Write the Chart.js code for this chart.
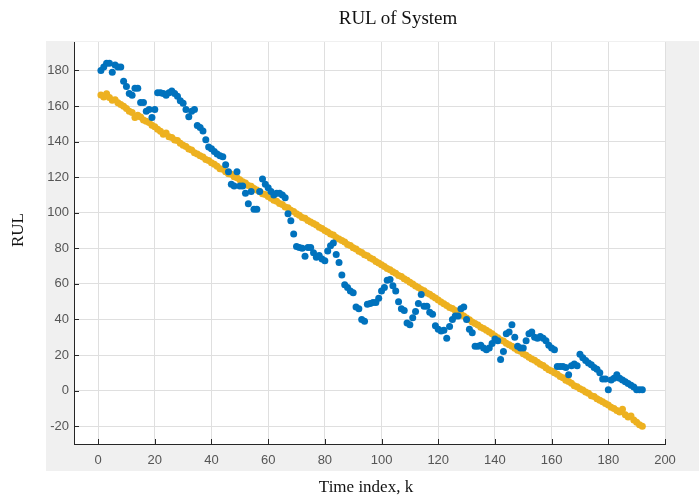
<!DOCTYPE html>
<html>
<head>
<meta charset="utf-8">
<script src="https://cdn.jsdelivr.net/npm/chart.js@4/dist/chart.umd.min.js"></script>
<style>
  body { margin: 0; background: #fff; }
  #wrap { position: relative; width: 699px; height: 495px; overflow: hidden; }
  #panel { position: absolute; left: 46px; top: 41px; width: 653px; height: 430px; background: #f0f0f0; }
  canvas { position: absolute; left: 0; top: 0; }
  .lbl { position: absolute; font-family: "Liberation Serif", "Times New Roman", serif; color: #111; white-space: nowrap; }
  #title { left: 398px; top: 7px; font-size: 19px; line-height: 22px; transform: translateX(-50%); }
  #xlabel { left: 366px; top: 477px; font-size: 17px; line-height: 20px; transform: translateX(-50%); }
  #ylabel { left: 18px; top: 230px; font-size: 17px; line-height: 20px; transform: translate(-50%, -50%) rotate(-90deg); }
</style>
</head>
<body>
<div id="wrap">
  <div id="panel"></div>
  <canvas id="rulChart" width="699" height="495"></canvas>
  <div class="lbl" id="title">RUL of System</div>
  <div class="lbl" id="xlabel">Time index, k</div>
  <div class="lbl" id="ylabel">RUL</div>
</div>
<script>
// estimated RUL (blue), one value per time index k = 1..192
const estimatedRul = [
  180, 182, 184, 184, 179, 183, 182, 182, 174, 171,
  167, 166, 170, 170, 162, 162, 157, 158, 153.5, 158,
  167.5, 167.5, 167, 166, 167.5, 168.5, 167, 165.5, 163, 161.5,
  158, 154, 157, 158, 149, 148, 146, 141, 137, 136,
  134.5, 133, 132, 131.5, 127, 123, 116, 115, 123, 115,
  115, 111, 105, 112, 102, 102, 112, 119, 116, 114,
  112, 110, 111, 111, 110, 108.5, 99.5, 95.5, 88, 81,
  80.5, 80, 75.5, 80.5, 80.5, 77.5, 75, 76, 74, 73,
  78.5, 81.5, 83, 76.5, 72, 65, 59.5, 58, 56, 55,
  47, 46, 40, 39, 48.5, 49, 49.5, 49.5, 52, 56,
  58, 62, 62.5, 59, 56, 50, 46, 45, 38, 37,
  41, 44.5, 49, 54, 47.5, 47.5, 44, 43, 36.5, 34.5,
  33.5, 34, 29.5, 36, 40, 42, 42, 46, 47, 40,
  34.5, 32.5, 25, 25, 25.5, 24, 23, 24, 26.5, 29,
  28, 17.5, 22, 32, 33, 37, 30, 25, 24, 24,
  28, 32, 33, 30, 29.5, 30.5, 29.5, 28, 25.5, 24,
  23, 13.5, 13.5, 13.5, 13, 9, 14, 15, 14, 20.5,
  18.5, 17, 15.5, 14.5, 13, 12, 10, 6.5, 6.5, 0.5,
  6, 7, 9, 7, 6, 5, 4, 3, 2, 0.5,
  0.5, 0.5
];

// true RUL (orange), k = 1..192
const trueRul = [
  166.2, 165.1, 166.9, 164.8, 163.2, 163.6, 161.9, 160.8, 159.9, 158.6,
  157.1, 156.4, 153.6, 154.8, 153.9, 152.1, 151.5, 150.8, 149.2, 148.4,
  146.9, 145.8, 144.2, 144.9, 142.8, 142.3, 140.9, 140.6, 139.1, 138.0,
  137.2, 135.9, 135.3, 133.8, 133.1, 132.0, 131.3, 129.9, 129.4, 128.1,
  127.3, 126.2, 124.8, 124.5, 123.1, 122.0, 121.6, 120.2, 119.7, 118.5,
  117.5, 116.8, 115.3, 114.9, 113.6, 112.8, 111.9, 110.7, 110.2, 109.1,
  108.2, 107.1, 106.5, 105.2, 104.6, 103.2, 102.8, 101.4, 100.7, 99.5,
  98.6, 97.4, 96.9, 95.6, 94.8, 93.9, 93.1, 91.8, 91.2, 90.0,
  89.2, 88.0, 87.5, 86.1, 85.3, 84.4, 83.5, 82.2, 81.6, 80.3,
  79.6, 78.3, 77.7, 76.4, 75.8, 74.5, 73.9, 72.6, 71.8, 70.8,
  69.8, 68.7, 67.9, 66.8, 66.0, 64.7, 64.1, 62.9, 62.0, 60.9,
  59.9, 58.8, 58.0, 56.9, 56.2, 54.9, 54.2, 53.0, 52.1, 51.0,
  49.8, 48.9, 47.9, 46.8, 46.2, 45.0, 44.3, 43.1, 42.0, 40.9,
  39.8, 38.6, 37.8, 36.9, 35.7, 35.0, 33.9, 32.9, 32.0, 30.7,
  29.8, 28.5, 27.9, 26.7, 25.8, 25.0, 23.8, 22.7, 22.1, 20.8,
  19.9, 18.8, 17.8, 17.1, 15.9, 14.8, 14.2, 12.9, 11.8, 11.1,
  10.0, 9.2, 7.9, 7.3, 5.9, 5.2, 4.1, 2.8, 2.2, 1.0,
  0.3, -0.8, -1.5, -2.9, -3.3, -4.6, -5.4, -6.2, -7.3, -8.1,
  -9.4, -10.1, -11.2, -12.0, -10.5, -13.5, -14.8, -14.2, -16.5, -17.8,
  -19.2, -20.0
];

const xTicks = [0, 20, 40, 60, 80, 100, 120, 140, 160, 180, 200];
const yTicks = [-20, 0, 20, 40, 60, 80, 100, 120, 140, 160, 180];

function toPoints(values) {
  return values.map((v, i) => ({ x: i + 1, y: v }));
}

// white plot area + MATLAB style inward ticks
const axesBox = {
  id: "axesBox",
  beforeDraw(chart) {
    const { ctx, chartArea } = chart;
    ctx.save();
    ctx.fillStyle = "#ffffff";
    ctx.fillRect(chartArea.left, chartArea.top, chartArea.right - chartArea.left, chartArea.bottom - chartArea.top);
    ctx.restore();
  },
  afterDraw(chart) {
    const { ctx, chartArea, scales } = chart;
    ctx.save();
    ctx.strokeStyle = "#262626";
    ctx.lineWidth = 1;
    ctx.beginPath();
    xTicks.forEach(v => {
      const px = Math.round(scales.x.getPixelForValue(v)) + 0.5;
      ctx.moveTo(px, chartArea.bottom);
      ctx.lineTo(px, chartArea.bottom - 5);
    });
    yTicks.forEach(v => {
      const py = Math.round(scales.y.getPixelForValue(v)) + 0.5;
      ctx.moveTo(chartArea.left, py);
      ctx.lineTo(chartArea.left + 5, py);
    });
    ctx.stroke();
    ctx.restore();
  }
};

const tickFont = { family: "'Liberation Sans', Arial, sans-serif", size: 13 };

new Chart(document.getElementById("rulChart").getContext("2d"), {
  type: "scatter",
  data: {
    datasets: [
      {
        label: "Estimated RUL",
        data: toPoints(estimatedRul),
        backgroundColor: "#0072BD",
        borderWidth: 0,
        pointRadius: 3.5
      },
      {
        label: "True RUL",
        data: toPoints(trueRul),
        backgroundColor: "#EDB120",
        borderWidth: 0,
        pointRadius: 3.5
      }
    ]
  },
  options: {
    responsive: false,
    animation: false,
    layout: { padding: { left: 0, right: 34, top: 42, bottom: 0 } },
    plugins: {
      legend: { display: false },
      tooltip: { enabled: false }
    },
    scales: {
      x: {
        type: "linear",
        min: -8.5,
        max: 200,
        afterBuildTicks: s => { s.ticks = xTicks.map(v => ({ value: v })); },
        afterFit: s => { s.height = 51; },
        grid: { color: "#dfdfdf", drawTicks: false },
        border: { color: "#262626", width: 1 },
        ticks: { padding: 9, color: "#555555", font: tickFont, maxRotation: 0, autoSkip: false }
      },
      y: {
        type: "linear",
        min: -30,
        max: 196,
        afterBuildTicks: s => { s.ticks = yTicks.map(v => ({ value: v })); },
        afterFit: s => { s.width = 74; },
        grid: { color: "#dfdfdf", drawTicks: false },
        border: { color: "#262626", width: 1 },
        ticks: { padding: 5, color: "#555555", font: tickFont, autoSkip: false }
      }
    }
  },
  plugins: [axesBox]
});
</script>
</body>
</html>
